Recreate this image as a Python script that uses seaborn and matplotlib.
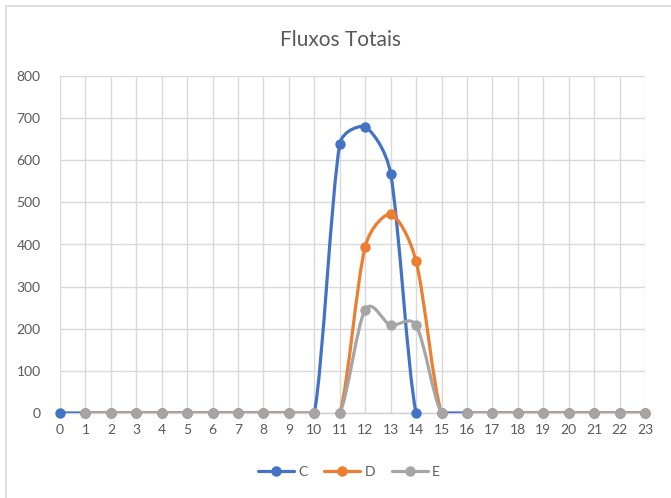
import numpy as np
import pandas as pd
import matplotlib
matplotlib.use("Agg")
import matplotlib.pyplot as plt
from matplotlib.path import Path
from matplotlib.patches import PathPatch, Rectangle
from matplotlib.lines import Line2D
import seaborn as sns

hours = list(range(24))
C = [0, 0, 0, 0, 0, 0, 0, 0, 0, 0, 0, 638, 680, 568, 0, 0, 0, 0, 0, 0, 0, 0, 0, 0]
D = [np.nan, 0, 0, 0, 0, 0, 0, 0, 0, 0, 0, 0, 395, 472, 360, 0, 0, 0, 0, 0, 0, 0, 0, 0]
E = [np.nan, 0, 0, 0, 0, 0, 0, 0, 0, 0, 0, 0, 245, 208, 208, 0, 0, 0, 0, 0, 0, 0, 0, 0]
series_names = ["C", "D", "E"]
colors = {"C": "#4472C4", "D": "#ED7D31", "E": "#A5A5A5"}
title = "Fluxos Totais"

df = pd.DataFrame({"hour": hours * 3,
                   "value": C + D + E,
                   "series": [s for s in series_names for _ in hours]})

sns.set_style("white")
plt.rcParams["font.family"] = ["Lato", "DejaVu Sans"]

W, H = 671, 498
ax_l, ax_b, ax_w, ax_h = 60, H - 413, 585, 337
fig = plt.figure(figsize=(W / 100, H / 100), dpi=100)
ax = fig.add_axes([ax_l / W, ax_b / H, ax_w / W, ax_h / H])

XMIN, XMAX, YMIN, YMAX = 0, 23, 0, 800
SX = ax_w / (XMAX - XMIN)   # px per x unit
SY = ax_h / (YMAX - YMIN)   # px per y unit

# chart border
fig.patches.append(Rectangle((6 / W, -0.02), 1.05, 1 - 6 / H + 0.02,
                             transform=fig.transFigure, fill=False,
                             edgecolor="#d9d9d9", linewidth=1.2))


def smooth_path(x, y):
    # Excel-like "smoothed line" Bezier construction, done in pixel space
    m = ~np.isnan(y)
    x = np.asarray(x, float)[m]
    y = np.asarray(y, float)[m]
    pts = np.column_stack([x * SX, y * SY])
    n = len(pts)
    verts = [(x[0], y[0])]
    codes = [Path.MOVETO]
    for i in range(n - 1):
        P0 = pts[max(i - 1, 0)]
        P1 = pts[i]
        P2 = pts[i + 1]
        P3 = pts[min(i + 2, n - 1)]
        d02 = np.linalg.norm(P2 - P0)
        d12 = np.linalg.norm(P2 - P1)
        d13 = np.linalg.norm(P3 - P1)
        if d02 / 6 < d12 / 2 and d13 / 6 < d12 / 2:
            f = 1 / 6 if not np.allclose(P0, P1) else 1 / 3
            b1 = P1 + (P2 - P0) * f
            f = 1 / 6 if not np.allclose(P2, P3) else 1 / 3
            b2 = P2 - (P3 - P1) * f
        elif d02 / 6 >= d12 / 2 and d13 / 6 >= d12 / 2:
            b1 = P1 + (P2 - P0) * (d12 / 2 / d02)
            b2 = P2 - (P3 - P1) * (d12 / 2 / d13)
        elif d02 / 6 >= d12 / 2:
            b1 = P1 + (P2 - P0) * (d12 / 2 / d02)
            b2 = P2 - (P3 - P1) * (d12 / 2 / d13) * (d13 / d02)
        else:
            b1 = P1 + (P2 - P0) * (d12 / 2 / d02) * (d02 / d13)
            b2 = P2 - (P3 - P1) * (d12 / 2 / d13)
        for p in (b1, b2, P2):
            verts.append((p[0] / SX, p[1] / SY))
        codes += [Path.CURVE4] * 3
    return Path(verts, codes)


for k, s in enumerate(series_names):
    sub = df[df["series"] == s]
    patch = PathPatch(smooth_path(sub["hour"].values, sub["value"].values),
                      facecolor="none", edgecolor=colors[s], linewidth=2.3,
                      zorder=3 + 2 * k, capstyle="round", joinstyle="round")
    ax.add_patch(patch)
    sns.lineplot(data=sub.dropna(), x="hour", y="value", color=colors[s],
                 marker="o", markersize=7.5, markeredgewidth=0, linewidth=0,
                 ax=ax, zorder=4 + 2 * k, clip_on=False, legend=False)

ax.set_xlim(XMIN, XMAX)
ax.set_ylim(YMIN, YMAX)
ax.set_xticks(hours)
ax.set_xticklabels([str(h) for h in hours])
ax.set_yticks(range(0, 801, 100))
ax.set_xlabel("")
ax.set_ylabel("")
ax.grid(True, color="#d9d9d9", linewidth=1.0)
ax.set_axisbelow(True)
for side in ["top", "right", "left"]:
    ax.spines[side].set_visible(False)
ax.spines["bottom"].set_color("#d0d0d0")
ax.spines["bottom"].set_linewidth(1.0)
ax.tick_params(axis="both", length=0, labelsize=10, colors="#595959")
ax.tick_params(axis="x", pad=8)
ax.tick_params(axis="y", pad=14)

fig.text(0.507, 1 - 40 / H, title, ha="center", va="center",
         fontsize=15, color="#595959")

handles = [Line2D([0], [0], color=colors[s], linewidth=2.3, marker="o",
                  markersize=7.5, markeredgewidth=0) for s in series_names]
fig.legend(handles, series_names, loc="center", bbox_to_anchor=(0.52, 1 - 472 / H),
           ncol=3, frameon=False, fontsize=10, handlelength=2.6,
           columnspacing=1.2, handletextpad=0.3, labelcolor="#595959")

fig.savefig("out.png", dpi=100, facecolor="white")
